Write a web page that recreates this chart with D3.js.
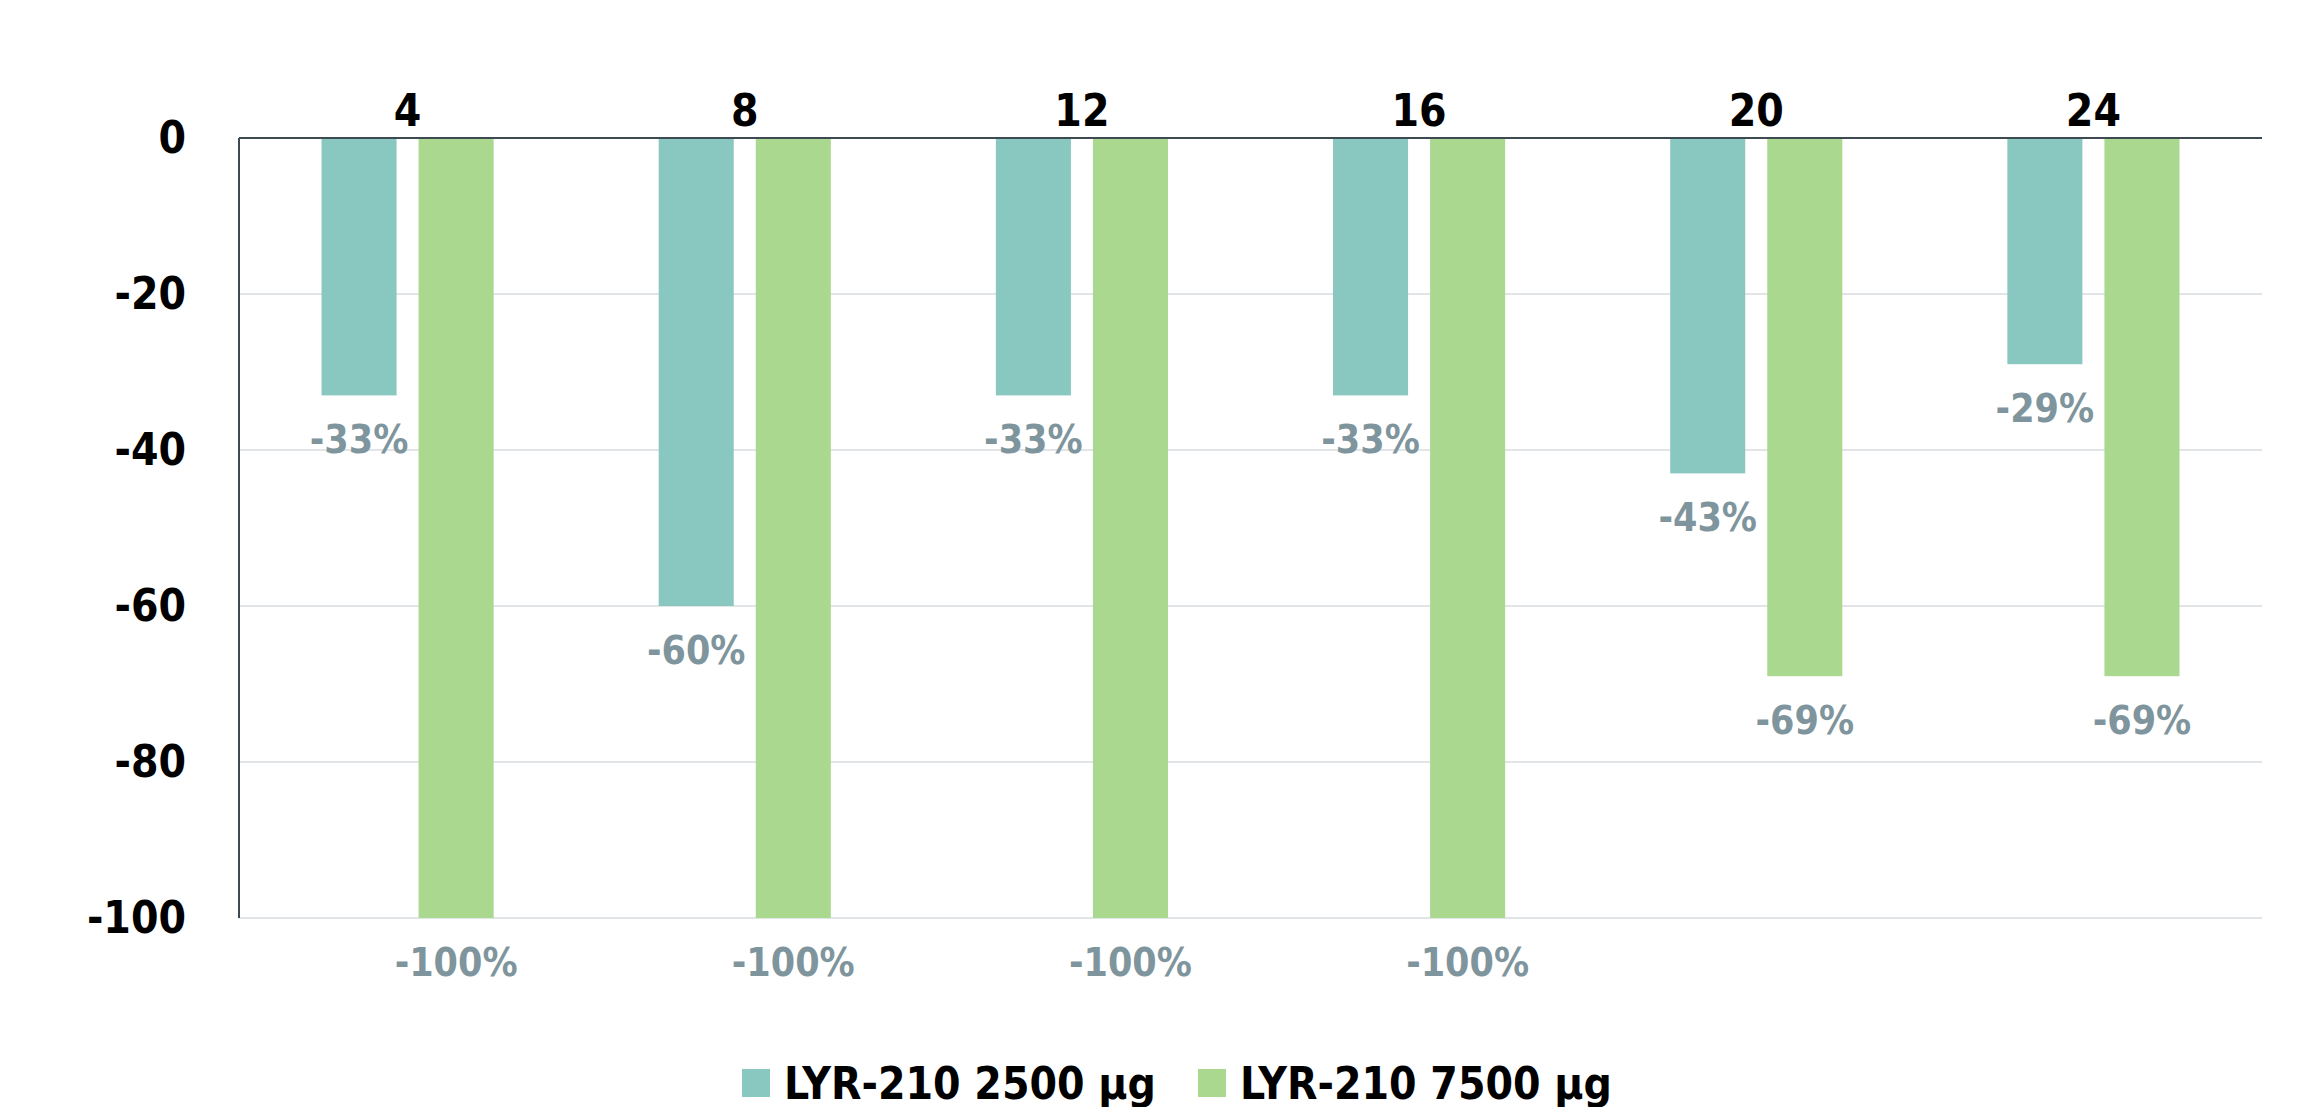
<!DOCTYPE html>
<html>
<head>
<meta charset="utf-8">
<script src="https://cdn.jsdelivr.net/npm/d3@7"></script>
<style>
  body { margin: 0; background: #fff; }
  svg { display: block; font-family: 'Liberation Sans Narrow', 'DejaVu Sans Condensed', 'DejaVu Sans', sans-serif; font-stretch: condensed; font-weight: bold; }
</style>
</head>
<body>
<svg width="2299" height="1107"></svg>
<script>
// **** Data ****
var weeks = ['4', '8', '12', '16', '20', '24'];
var seriesNames = ['LYR-210 2500 µg', 'LYR-210 7500 µg'];
var dose2500 = [-33, -60, -33, -33, -43, -29];
var dose7500 = [-100, -100, -100, -100, -69, -69];
var yTicks = [0, -20, -40, -60, -80, -100];
var colors = ['#88C8C0', '#AAD88E'];

var rows = weeks.map(function(w, i) {
    return { week: w, values: [dose2500[i], dose7500[i]] };
});

// **** Scales ****
var plotLeft = 239, plotRight = 2262, plotTop = 138, plotBottom = 918;

var xScale = d3.scaleBand().domain(weeks).range([plotLeft, plotRight]).padding(0);
var subScale = d3.scaleBand().domain([0, 1])
    .range([0, xScale.bandwidth()])
    .paddingInner(0.227).paddingOuter(0.85);
var yScale = d3.scaleLinear().domain([-100, 0]).range([plotBottom, plotTop]);

var svg = d3.select('svg');

// gridlines
svg.append('g')
    .selectAll('line')
    .data(yTicks.filter(function(d) { return d !== 0; }))
    .enter().append('line')
    .attr('x1', plotLeft).attr('x2', plotRight)
    .attr('y1', d => yScale(d)).attr('y2', d => yScale(d))
    .attr('stroke', '#E1E5E8').attr('stroke-width', 2);

// y axis labels (plain hyphen, not the unicode minus)
svg.append('g').attr('class', 'y axis')
    .attr('transform', 'translate(' + plotLeft + ',0)')
    .call(d3.axisLeft(yScale).tickValues(yTicks).tickFormat(d => String(d)).tickSize(0).tickPadding(53))
    .attr('font-family', null).attr('font-size', null)
    .call(g => g.select('.domain').remove())
    .selectAll('text')
    .attr('font-size', 44).attr('fill', '#000');

// bars
var groups = svg.append('g').selectAll('g')
    .data(rows).enter().append('g')
    .attr('transform', d => 'translate(' + xScale(d.week) + ',0)');

groups.selectAll('rect')
    .data(d => d.values.map((v, i) => ({ v: v, i: i })))
    .enter().append('rect')
    .attr('x', d => subScale(d.i))
    .attr('width', subScale.bandwidth())
    .attr('y', yScale(0))
    .attr('height', d => yScale(d.v) - yScale(0))
    .attr('fill', d => colors[d.i]);

// value labels
groups.selectAll('text')
    .data(d => d.values.map((v, i) => ({ v: v, i: i })))
    .enter().append('text')
    .attr('x', d => subScale(d.i) + subScale.bandwidth() / 2)
    .attr('y', d => yScale(d.v) + 44)
    .attr('dominant-baseline', 'central')
    .attr('text-anchor', 'middle')
    .attr('font-size', 39)
    .attr('fill', '#7F959D')
    .text(d => d.v + '%');

// zero line and left axis
svg.append('line')
    .attr('x1', plotLeft).attr('x2', plotRight)
    .attr('y1', yScale(0)).attr('y2', yScale(0))
    .attr('stroke', '#3E4A52').attr('stroke-width', 2);
svg.append('line')
    .attr('x1', plotLeft).attr('x2', plotLeft)
    .attr('y1', yScale(0)).attr('y2', yScale(-100))
    .attr('stroke', '#3E4A52').attr('stroke-width', 2);

// category labels on top
svg.append('g').attr('class', 'x axis')
    .attr('transform', 'translate(0,' + plotTop + ')')
    .call(d3.axisTop(xScale).tickSize(0).tickPadding(12))
    .attr('font-family', null).attr('font-size', null)
    .call(g => g.select('.domain').remove())
    .selectAll('text')
    .attr('font-size', 44).attr('fill', '#000');

// legend
var legendX = [742, 1198];
var legend = svg.append('g').selectAll('g')
    .data(seriesNames).enter().append('g')
    .attr('transform', (d, i) => 'translate(' + legendX[i] + ',1069)');
legend.append('rect')
    .attr('width', 28).attr('height', 28)
    .attr('fill', (d, i) => colors[i]);
legend.append('text')
    .attr('x', 42).attr('y', 14)
    .attr('dominant-baseline', 'central')
    .attr('font-size', 44)
    .attr('fill', '#000')
    .text(d => d);
</script>
</body>
</html>
